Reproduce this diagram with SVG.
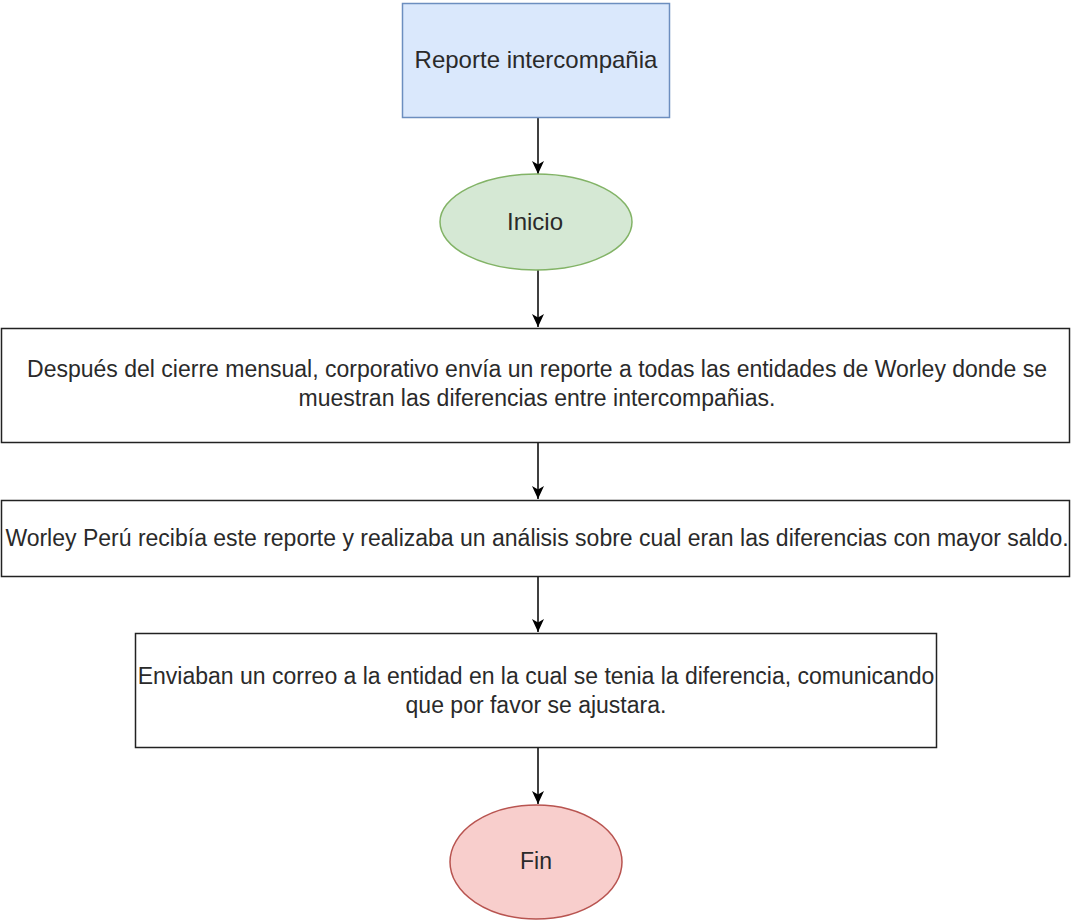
<svg xmlns="http://www.w3.org/2000/svg" width="1071" height="922" viewBox="0 0 1071 922">
<style>
text{font-family:"Liberation Sans",Arial,sans-serif;font-size:23px;fill:#2a2a2a;text-anchor:middle;dominant-baseline:central}
.big{font-size:24px}
.box{fill:#fff;stroke:#222;stroke-width:1.5}
.edge{stroke:#000;stroke-width:1.5;fill:none;marker-end:url(#arr)}
</style>
<defs>
<marker id="arr" markerUnits="userSpaceOnUse" markerWidth="14" markerHeight="14" viewBox="0 0 14 14" refX="13" refY="7" orient="auto">
<path d="M0,1 L13,7 L0,13 L3.5,7 Z" fill="#000"/>
</marker>
</defs>
<g id="connectors">
<path class="edge" d="M538,118 L538,174"/>
<path class="edge" d="M538,270 L538,327"/>
<path class="edge" d="M538,443 L538,499"/>
<path class="edge" d="M538,577 L538,632"/>
<path class="edge" d="M538,748 L538,804"/>
</g>
<g id="reporte">
<rect x="402.5" y="3.5" width="267" height="114" fill="#dae8fc" stroke="#6c8ebf" stroke-width="1.5"/>
<text class="big" x="536" y="59">Reporte intercompañia</text>
</g>
<g id="inicio">
<ellipse cx="536" cy="222" rx="96" ry="48" fill="#d5e8d4" stroke="#82b366" stroke-width="1.5"/>
<text class="big" x="535" y="221">Inicio</text>
</g>
<g id="paso1">
<rect class="box" x="1.5" y="328.5" width="1068" height="114"/>
<text x="537" y="369">Después del cierre mensual, corporativo envía un reporte a todas las entidades de Worley donde se</text>
<text x="537" y="398">muestran las diferencias entre intercompañias.</text>
</g>
<g id="paso2">
<rect class="box" x="1.5" y="500.5" width="1068" height="76"/>
<text x="537" y="538">Worley Perú recibía este reporte y realizaba un análisis sobre cual eran las diferencias con mayor saldo.</text>
</g>
<g id="paso3">
<rect class="box" x="135.5" y="633.5" width="801" height="114"/>
<text x="536" y="676">Enviaban un correo a la entidad en la cual se tenia la diferencia, comunicando</text>
<text x="536" y="705">que por favor se ajustara.</text>
</g>
<g id="fin">
<ellipse cx="536" cy="862" rx="86" ry="57" fill="#f8cecc" stroke="#b85450" stroke-width="1.5"/>
<text x="536" y="861">Fin</text>
</g>
</svg>
